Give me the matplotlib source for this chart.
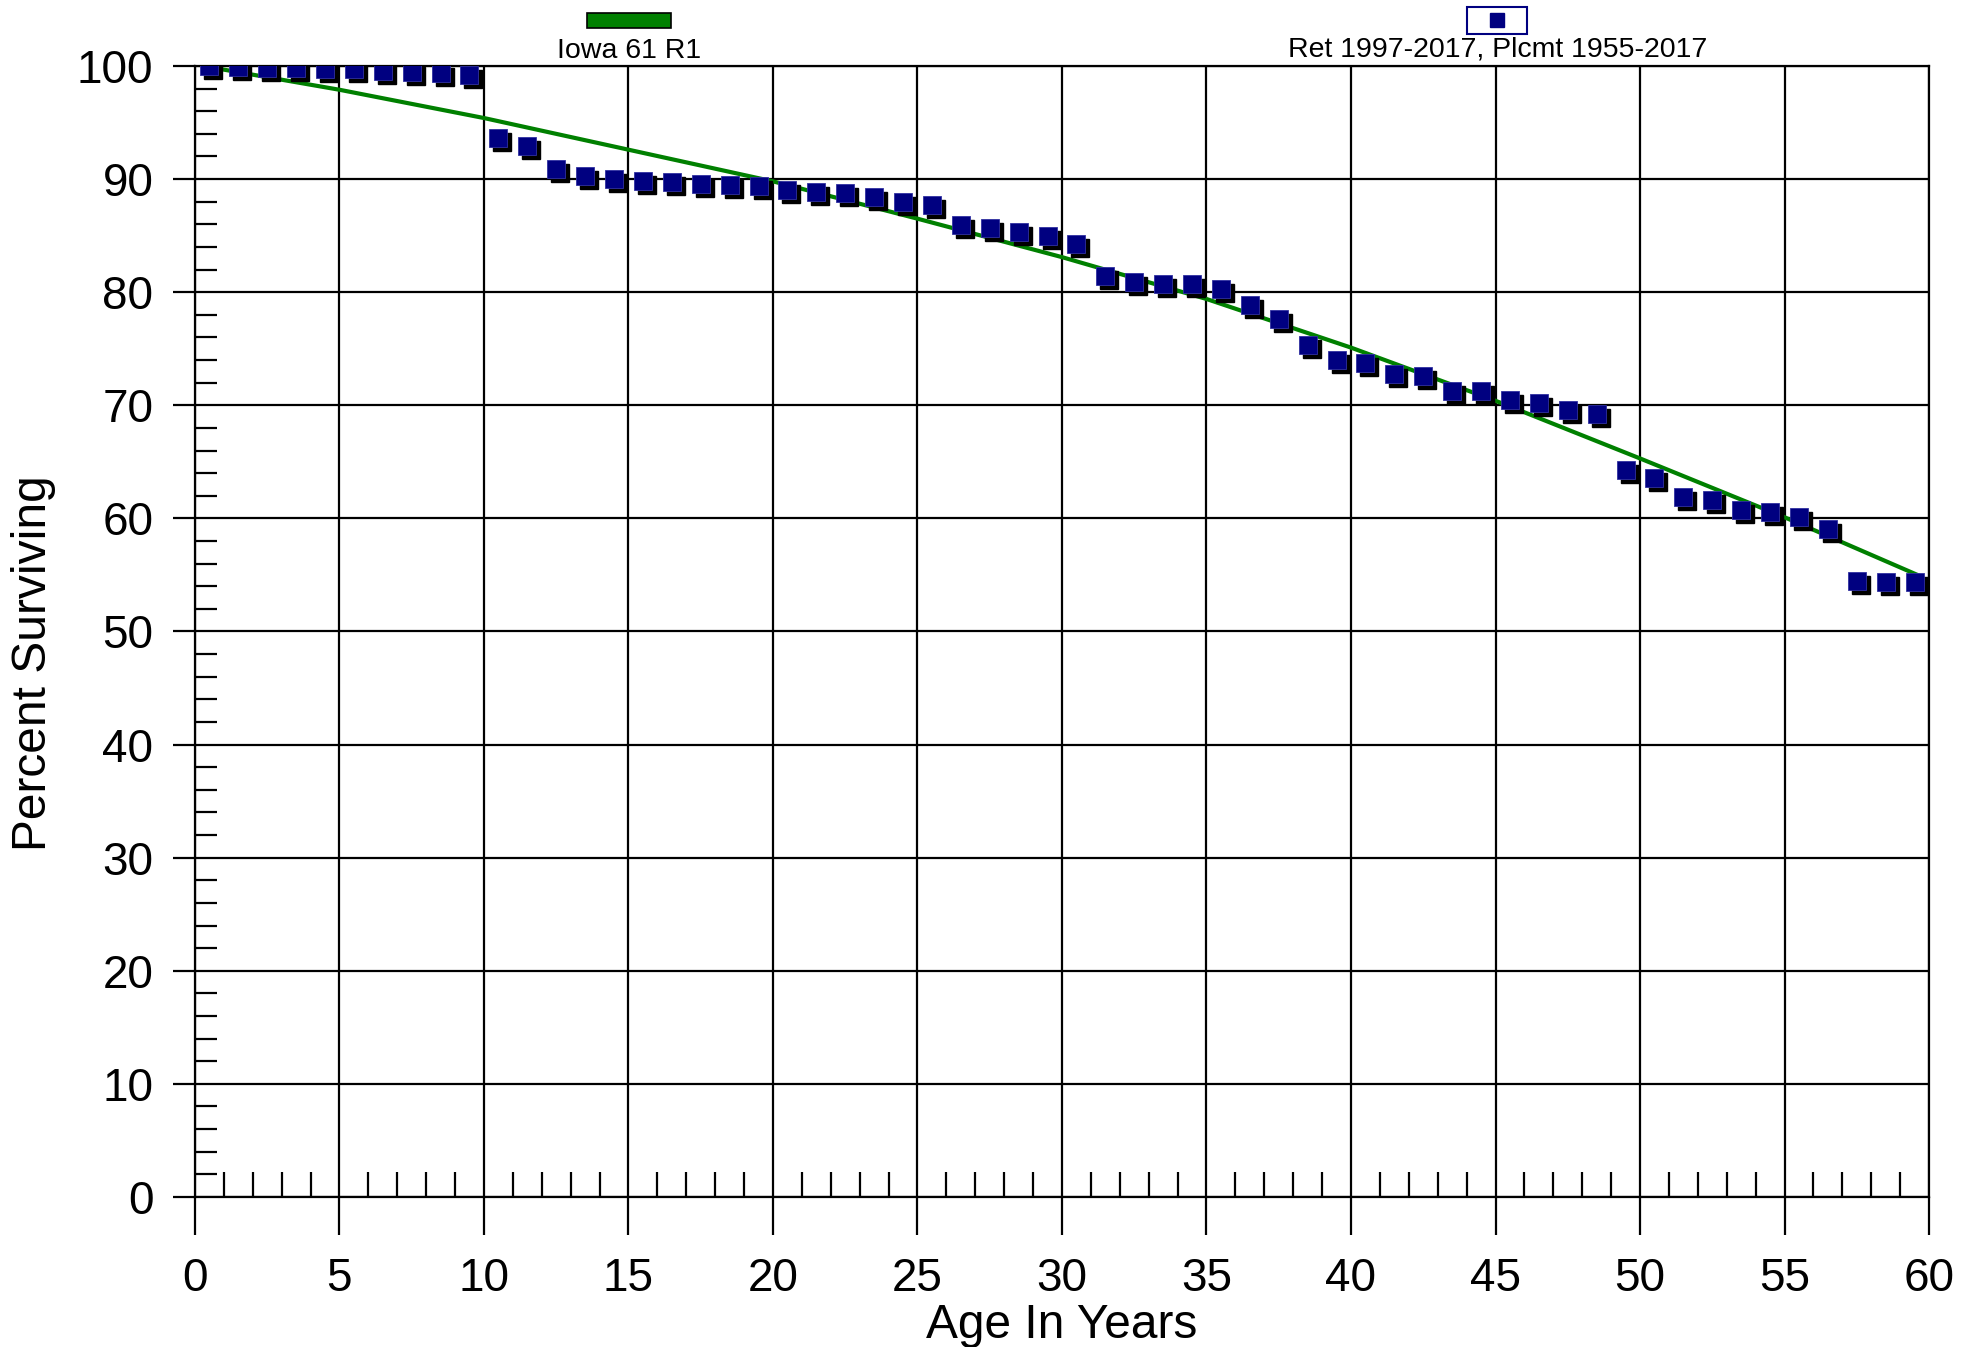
"""
Survival curve chart: observed life table vs Iowa 61 R1
"""

import matplotlib
matplotlib.use('Agg')
import matplotlib.pyplot as plt
import matplotlib.patches as mpatches
from matplotlib.lines import Line2D
from matplotlib.ticker import MultipleLocator
from matplotlib.transforms import offset_copy

plt.rcParams['font.family'] = ['Liberation Sans', 'DejaVu Sans']

# observed points (age at midpoint of interval, percent surviving)
ages = [0.5, 1.5, 2.5, 3.5, 4.5, 5.5, 6.5, 7.5, 8.5, 9.5,
        10.5, 11.5, 12.5, 13.5, 14.5, 15.5, 16.5, 17.5, 18.5, 19.5,
        20.5, 21.5, 22.5, 23.5, 24.5, 25.5, 26.5, 27.5, 28.5, 29.5,
        30.5, 31.5, 32.5, 33.5, 34.5, 35.5, 36.5, 37.5, 38.5, 39.5,
        40.5, 41.5, 42.5, 43.5, 44.5, 45.5, 46.5, 47.5, 48.5, 49.5,
        50.5, 51.5, 52.5, 53.5, 54.5, 55.5, 56.5, 57.5, 58.5, 59.5]
surviving = [100.0, 99.9, 99.8, 99.8, 99.7, 99.7, 99.6, 99.5, 99.4, 99.2,
             93.6, 92.9, 90.9, 90.3, 90.0, 89.8, 89.7, 89.6, 89.5, 89.4,
             89.0, 88.9, 88.8, 88.4, 88.0, 87.7, 85.9, 85.7, 85.3, 85.0,
             84.3, 81.4, 80.9, 80.7, 80.7, 80.3, 78.9, 77.6, 75.3, 74.0,
             73.7, 72.8, 72.6, 71.3, 71.3, 70.5, 70.2, 69.6, 69.2, 64.3,
             63.6, 61.9, 61.6, 60.7, 60.6, 60.1, 59.1, 54.5, 54.4, 54.4]

# Iowa 61 R1 curve
iowa_age = [0.5, 5, 10, 15, 20, 25, 30, 35, 40, 45, 50, 55, 59.6]
iowa_pct = [99.9, 97.9, 95.4, 92.6, 89.8, 86.5, 83.1, 79.4, 75.1, 70.4, 65.3, 60.1, 55.0]

iowa_label = 'Iowa 61 R1'
data_label = 'Ret 1997-2017, Plcmt 1955-2017'


def make_chart():
    fig = plt.figure(figsize=(19.61, 13.47), dpi=100)
    ax = fig.add_axes([0.0994, 0.1114, 0.8843, 0.8396])

    ax.set_xlim(0, 60)
    ax.set_ylim(0, 100)

    # grid
    ax.xaxis.set_major_locator(MultipleLocator(5))
    ax.yaxis.set_major_locator(MultipleLocator(10))
    ax.xaxis.set_minor_locator(MultipleLocator(1))
    ax.yaxis.set_minor_locator(MultipleLocator(2))
    ax.grid(True, which='major', color='black', linewidth=1.6)
    ax.set_axisbelow(True)

    for s in ax.spines.values():
        s.set_linewidth(1.6)

    ax.tick_params(axis='x', which='major', direction='out', length=27, width=1.6,
                   labelsize=33, pad=16)
    ax.tick_params(axis='y', which='major', direction='out', length=16, width=1.6,
                   labelsize=33, pad=14)
    ax.tick_params(axis='x', which='minor', direction='in', length=18, width=1.6)
    ax.tick_params(axis='y', which='minor', direction='in', length=16, width=1.6)

    # curve
    ax.plot(iowa_age, iowa_pct, color='#008000', linewidth=3, zorder=3)

    # markers with drop shadow
    shadow = offset_copy(ax.transData, fig=fig, x=4, y=-4, units='dots')
    ax.plot(ages, surviving, linestyle='none', marker='s', markersize=13.5,
            color='black', transform=shadow, zorder=4)
    ax.plot(ages, surviving, linestyle='none', marker='s', markersize=13.5,
            color='#000080', markeredgecolor='#3030a0', markeredgewidth=0.6, zorder=5)

    # axis titles
    fig.text(0.5415, 0.0067, 'Age In Years', fontsize=34.5, ha='center', va='baseline')
    fig.text(0.0173, 0.508, 'Percent Surviving', fontsize=34.5, rotation=90,
             ha='center', va='center')

    # legend drawn at the top
    fig.add_artist(mpatches.Rectangle((0.2993, 0.9792), 0.0428, 0.0111,
                                      transform=fig.transFigure, facecolor='#008000',
                                      edgecolor='black', linewidth=1.2))
    fig.text(0.3208, 0.957, iowa_label, fontsize=20.5, ha='center', va='baseline')

    fig.add_artist(mpatches.Rectangle((0.7481, 0.9748), 0.0306, 0.0200,
                                      transform=fig.transFigure, facecolor='white',
                                      edgecolor='#000080', linewidth=1.5))
    fig.add_artist(Line2D([0.7634], [0.9852], transform=fig.transFigure,
                          marker='s', markersize=10, color='#000080', linestyle='none'))
    fig.text(0.7636, 0.9577, data_label, fontsize=20.5, ha='center', va='baseline')

    fig.savefig('out.png', dpi=100)
    plt.close(fig)


if __name__ == "__main__":
    make_chart()
